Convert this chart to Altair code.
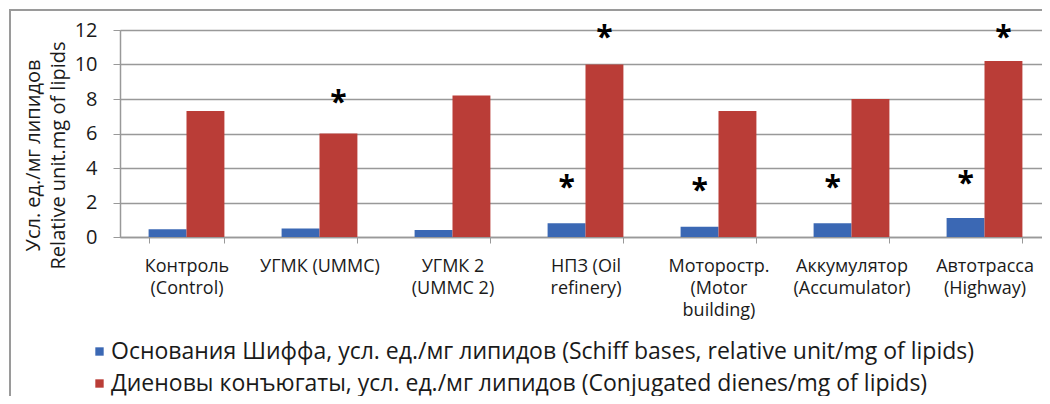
import altair as alt
import pandas as pd

categories = [
    "Контроль|(Control)",
    "УГМК (UMMC)",
    "УГМК 2|(UMMC  2)",
    "НПЗ (Oil|refinery)",
    "Моторостр.|(Motor|building)",
    "Аккумулятор|(Accumulator)",
    "Автотрасса|(Highway)",
]
series = [
    "Основания Шиффа, усл. ед./мг липидов (Schiff bases, relative unit/mg of lipids)",
    "Диеновы конъюгаты, усл. ед./мг липидов (Conjugated dienes/mg of lipids)",
]
schiff_values = [0.45, 0.5, 0.4, 0.8, 0.6, 0.8, 1.1]
diene_values = [7.3, 6.0, 8.2, 10.0, 7.3, 8.0, 10.2]
colors = ["#3b68b4", "#ba3d37"]

# significance marks: category index, series index, height of the asterisk
star_category = [1, 3, 3, 4, 5, 6, 6]
star_series = [1, 0, 1, 0, 0, 0, 1]
star_height = [8.1, 3.2, 11.9, 3.0, 3.2, 3.4, 11.9]

y_title = ["Усл. ед./мг липидов", "Relative unit.mg of lipids"]
y_ticks = [0, 2, 4, 6, 8, 10, 12]

rows = []
for i, c in enumerate(categories):
    rows.append({"category": c, "series": series[0], "value": schiff_values[i]})
    rows.append({"category": c, "series": series[1], "value": diene_values[i]})
bars_df = pd.DataFrame(rows)

stars_df = pd.DataFrame({
    "category": [categories[i] for i in star_category],
    "series": [series[j] for j in star_series],
    "value": star_height,
    "t": ["*"] * len(star_height),
})

FONT = "Open Sans"

x_enc = alt.X(
    "category:N",
    sort=categories,
    scale=alt.Scale(domain=categories, paddingInner=0.43, paddingOuter=0.215),
    axis=alt.Axis(
        title=None,
        labelAngle=0,
        labelExpr="split(datum.label, '|')",
        labelFont=FONT,
        labelFontSize=18,
        labelColor="#1a1a1a",
        labelLineHeight=22,
        labelPadding=14,
        labelOverlap=False,
        tickBand="extent",
        tickSize=6,
        tickColor="#999999",
        domainColor="#999999",
        domainWidth=1.5,
        labelBaseline="top",
    ),
)
xo_enc = alt.XOffset("series:N", sort=series, scale=alt.Scale(domain=series))

y_scale = alt.Scale(domain=[0, 12], nice=False)
y_axis = alt.Axis(
    values=y_ticks,
    tickCount=7,
    title=y_title,
    titleFont=FONT,
    titleFontSize=20,
    titleFontWeight="normal",
    titleColor="#1a1a1a",
    titleLineHeight=25,
    titleAngle=-90,
    titleX=-87,
    titleY=125,
    titleAlign="center",
    titleBaseline="middle",
    labelFont=FONT,
    labelFontSize=20,
    labelColor="#1a1a1a",
    labelPadding=16,
    labelOverlap=False,
    tickSize=7,
    tickColor="#999999",
    domainColor="#999999",
    domainWidth=1.5,
    grid=True,
    gridColor="#999999",
    gridWidth=1.6,
)
y_enc = alt.Y("value:Q", scale=y_scale, axis=y_axis)

bars = alt.Chart(bars_df).mark_bar().encode(
    x=x_enc,
    xOffset=xo_enc,
    y=y_enc,
    color=alt.Color(
        "series:N",
        sort=series,
        scale=alt.Scale(domain=series, range=colors),
        legend=alt.Legend(
            title=None,
            orient="none",
            legendX=-32,
            legendY=310,
            direction="vertical",
            symbolType="square",
            symbolSize=70,
            symbolStrokeWidth=0,
            labelFont=FONT,
            labelFontSize=23,
            labelColor="#1a1a1a",
            labelLimit=1000,
            labelOffset=0,
            rowPadding=8,
        ),
    ),
)

stars = alt.Chart(stars_df).mark_text(
    font=FONT, fontSize=30, fontWeight="bold", color="#000000", baseline="middle", dy=6
).encode(
    x=x_enc,
    xOffset=xo_enc,
    y=y_enc,
    text="t:N",
)

frame = alt.Chart(pd.DataFrame({"k": [0]})).mark_rect(
    fill=None, stroke="#9a9a9a", strokeWidth=2, clip=False
).encode(
    x=alt.value(-110), x2=alt.value(1100), y=alt.value(-20), y2=alt.value(420)
)

chart = (
    alt.layer(frame, bars, stars)
    .properties(
        width=931,
        height=207,
        autosize=alt.AutoSizeParams(type="none"),
        padding={"left": 112, "top": 22, "right": -9, "bottom": 159},
    )
    .configure_view(stroke=None)
    .configure(background="white")
)

chart.save("out.html", embed_options={"renderer": "svg", "actions": False})
